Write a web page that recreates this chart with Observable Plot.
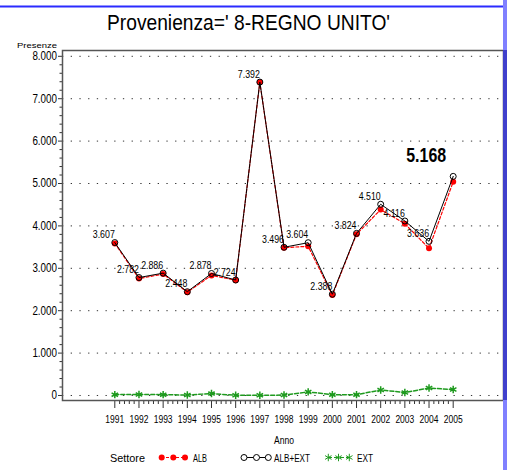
<!DOCTYPE html>
<html><head><meta charset="utf-8">
<script src="https://cdn.jsdelivr.net/npm/d3@7"></script>
<script src="https://cdn.jsdelivr.net/npm/@observablehq/plot@0.6"></script>
<style>
body{margin:0;background:#fff;}
#chart{position:relative;width:507px;height:470px;overflow:hidden;background:#fff;}
</style></head><body><div id="chart"></div>
<script>
// ---- data ----
const years  = [1991,1992,1993,1994,1995,1996,1997,1998,1999,2000,2001,2002,2003,2004,2005];
const albExt = [3607,2782,2886,2448,2878,2724,7392,3496,3604,2388,3824,4510,4116,3636,5168];
const alb    = [3587,2757,2866,2438,2833,2719,7387,3486,3519,2368,3804,4385,4050,3470,5040];
const ext    = [20,25,20,10,45,5,5,10,85,20,20,130,70,175,140];
const yTicks = [0,1000,2000,3000,4000,5000,6000,7000,8000];
const seriesNames = ["ALB","ALB+EXT","EXT"];
const title = "Provenienza=' 8-REGNO UNITO'";
const yLabel = "Presenze";
const xLabel = "Anno";
const legendTitle = "Settore";

const fmt = d => d3.format(",")(d).replace(/,/g, ".");
const FONT = '"Liberation Sans",Arial,sans-serif';
const rows = years.map((y,i)=>({anno:y, alb:alb[i], tot:albExt[i], ext:ext[i]}));
const last = rows[rows.length-1];
const minorY = d3.range(0, 8001, 200).filter(v => v % 1000 !== 0);
const minorX = d3.range(1991, 2005.01, 0.2).filter(v => Math.abs(v - Math.round(v)) > 0.01);

const RED = "#ff0000", GREEN = "#1e9a1e";

const plot = Plot.plot({
  width:507, height:470, marginLeft:62, marginRight:4, marginTop:50, marginBottom:70,
  style:{fontFamily:FONT, fontSize:"12px", background:"transparent", overflow:"visible"},
  x:{domain:[1988.836, 2007.081], label:null},
  y:{domain:[-118, 8137], label:null},
  marks:[
    Plot.gridY(yTicks, {stroke:"#000", strokeOpacity:0.8, strokeDasharray:"1.3,7.4"}),
    Plot.axisY(minorY, {tickSize:2.5, tickFormat:()=>"", label:null, stroke:"#333"}),
    Plot.axisY(yTicks, {tickSize:4, tickPadding:1.5, tickFormat:fmt, fontSize:12, label:null, stroke:"#333"}),
    Plot.axisX(minorX, {tickSize:4, tickFormat:()=>"", label:null, stroke:"#333"}),
    Plot.axisX(years, {tickSize:8, tickPadding:6, tickFormat:d=>String(d), fontSize:11.5, label:null, stroke:"#333"}),
    Plot.frame({stroke:"#555", strokeWidth:1.5}),
    Plot.line(rows, {x:"anno", y:"ext", stroke:GREEN, strokeDasharray:"4,2"}),
    Plot.dot(rows, {x:"anno", y:"ext", symbol:"asterisk", stroke:GREEN, r:3.5}),
    Plot.line(rows, {x:"anno", y:"alb", stroke:RED, strokeDasharray:"3,2", strokeWidth:1.2}),
    Plot.dot(rows, {x:"anno", y:"alb", fill:RED, r:3}),
    Plot.line(rows, {x:"anno", y:"tot", stroke:"#000", strokeWidth:1}),
    Plot.dot(rows, {x:"anno", y:"tot", stroke:"#000", fill:"none", r:3, strokeWidth:1}),
    Plot.text(rows.slice(0,-1), {x:"anno", y:"tot", text:d=>fmt(d.tot), textAnchor:"end", dy:-8, fontSize:11, fill:"#000"}),
    Plot.text([last], {x:"anno", y:"tot", text:d=>fmt(d.tot), dx:-27, dy:-21, fontSize:21, fontWeight:"bold", fill:"#000"})
  ]
});
document.getElementById("chart").appendChild(plot);
const svg = d3.select(plot);

// narrow the glyphs of Plot's texts (emulating a condensed font)
function narrow(sel, k){
  sel.each(function(){
    const t = this.getAttribute("transform") || "";
    const x = +(this.getAttribute("x") || 0);
    this.setAttribute("transform", `${t} translate(${x},0) scale(${k},1) translate(${-x},0)`);
  });
}
narrow(svg.selectAll("g[aria-label='y-axis tick label'] text"), 0.82);
narrow(svg.selectAll("g[aria-label='x-axis tick label'] text"), 0.74);
const textGroups = svg.selectAll("g[aria-label='text']").nodes();
narrow(d3.select(textGroups[0]).selectAll("text"), 0.8);
narrow(d3.select(textGroups[1]).selectAll("text"), 0.76);

// ---- decorations: title, axis names, legend, borders ----
svg.append("line").attr("x1",0).attr("x2",503).attr("y1",6.5).attr("y2",6.5)
  .attr("stroke","#2b2bff").attr("stroke-width",2);
svg.append("rect").attr("x",503).attr("y",0).attr("width",4).attr("height",470).attr("fill","#8080ff");
svg.append("rect").attr("x",503).attr("y",50).attr("width",4).attr("height",350).attr("fill","#4040cc");

function label(txt, x, y, size, len, anchor){
  return svg.append("text").text(txt).attr("x",x).attr("y",y)
    .attr("text-anchor",anchor||"start").attr("font-family",FONT).attr("font-size",size)
    .attr("textLength",len).attr("lengthAdjust","spacingAndGlyphs").attr("fill","#000");
}
label(title, 107, 30, 22, 283);
label(yLabel, 17, 47.5, 7.5, 40);
label(xLabel, 274, 444, 11.5, 20);

const ly = 457.5;
label(legendTitle, 110, ly+4, 11.5, 35);
// ALB
svg.append("line").attr("x1",161).attr("x2",186).attr("y1",ly).attr("y2",ly).attr("stroke",RED).attr("stroke-dasharray","3,2");
[161.7,173.3,185].forEach(x=>svg.append("circle").attr("cx",x).attr("cy",ly).attr("r",3).attr("fill",RED));
label(seriesNames[0], 193, ly+4, 11.5, 14);
// ALB+EXT
svg.append("line").attr("x1",244).attr("x2",268).attr("y1",ly).attr("y2",ly).attr("stroke","#000");
[244,256.5,268.3].forEach(x=>svg.append("circle").attr("cx",x).attr("cy",ly).attr("r",3).attr("fill","#fff").attr("stroke","#000"));
label(seriesNames[1], 274, ly+4, 11.5, 36);
// EXT
svg.append("line").attr("x1",328).attr("x2",349).attr("y1",ly).attr("y2",ly).attr("stroke",GREEN).attr("stroke-dasharray","4,2");
const star = d3.symbol(d3.symbolAsterisk, Math.PI*3.5*3.5)();
[328.3,338.5,349.3].forEach(x=>svg.append("path").attr("d",star).attr("transform",`translate(${x},${ly})`).attr("fill","none").attr("stroke",GREEN));
label(seriesNames[2], 357, ly+4, 11.5, 16);
</script>
</body></html>
